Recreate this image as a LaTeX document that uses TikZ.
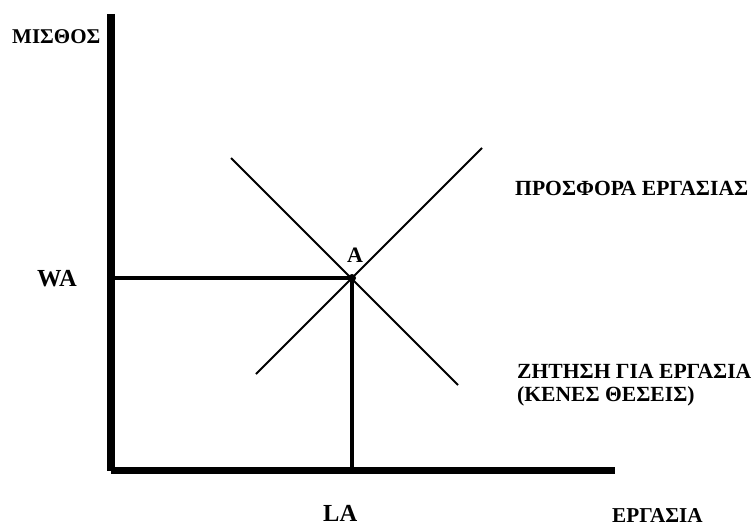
\documentclass[tikz,border=0pt]{standalone}
\usepackage{fontspec}
\setmainfont{Liberation Serif}
\begin{document}
\begin{tikzpicture}[x=1pt,y=-1pt,
  lbl/.style={inner sep=0pt,anchor=base west,font=\bfseries\fontsize{21.6}{26}\selectfont},
  biglbl/.style={inner sep=0pt,anchor=base west,font=\bfseries\fontsize{24.5}{28}\selectfont},
  axis/.style={line width=8pt,line cap=butt},
  curve/.style={line width=2pt},
  guide/.style={line width=3.5pt}]
\useasboundingbox (0,0) rectangle (751,527);
% axes
\coordinate (ytop) at (111,14);
\coordinate (ybot) at (111,471);
\coordinate (xl) at (111,470.5);
\coordinate (xr) at (615,470.5);
\draw[axis] (ytop) -- (ybot);
\draw[axis,line width=7pt] (xl) -- (xr);
% equilibrium point
\node[circle,fill,inner sep=0pt,minimum size=8pt] (A) at (352,278) {};
% supply and demand
\coordinate (s1) at (256,374);
\coordinate (s2) at (482,148);
\coordinate (d1) at (231,158);
\coordinate (d2) at (458,385);
\draw[curve] (s1) -- (s2);
\draw[curve] (d1) -- (d2);
% guides
\coordinate (wa) at (111,278);
\coordinate (la) at (352,470.5);
\draw[guide] (wa) -- (A.center);
\draw[guide] (A.center) -- (la);
% labels
\node[lbl,font=\bfseries\fontsize{21}{26}\selectfont] (misthos) at (12,44) {ΜΙΣΘΟΣ};
\node[lbl] (prosfora) at (515,195) {ΠΡΟΣΦΟΡΑ ΕΡΓΑΣΙΑΣ};
\node[lbl] (zitisi) at (517,378) {ΖΗΤΗΣΗ ΓΙΑ ΕΡΓΑΣΙΑ};
\node[lbl] (kenes) at (517,401) {(ΚΕΝΕΣ ΘΕΣΕΙΣ)};
\node[lbl,font=\bfseries\fontsize{21.2}{26}\selectfont] (ergasia) at (612,522) {ΕΡΓΑΣΙΑ};
\node[biglbl] (WA) at (37,286) {WA};
\node[biglbl] (LA) at (323,521) {LA};
\node[inner sep=0pt,anchor=base,font=\bfseries\fontsize{22}{26}\selectfont] (Alab) at (355,262) {A};
\end{tikzpicture}
\end{document}
